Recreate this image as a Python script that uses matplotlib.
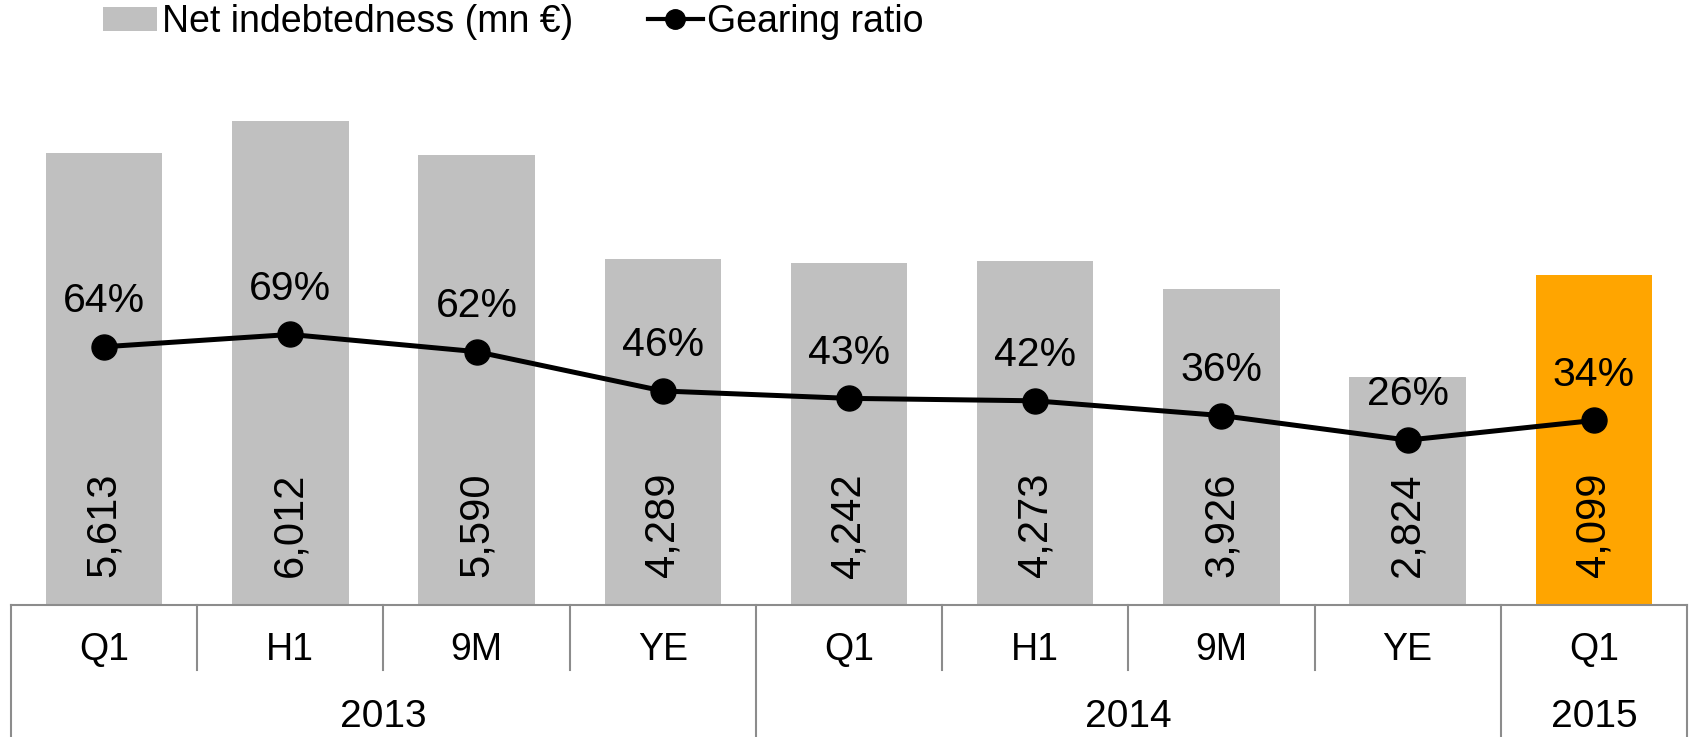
import numpy as np
import matplotlib.pyplot as plt
from matplotlib.patches import Patch
from matplotlib.lines import Line2D

plt.rcParams['font.family'] = ['Liberation Sans', 'DejaVu Sans']

categories = ['Q1', 'H1', '9M', 'YE', 'Q1', 'H1', '9M', 'YE', 'Q1']
years = ['2013', '2014', '2015']
year_counts = [4, 4, 1]
net_debt = [5613, 6012, 5590, 4289, 4242, 4273, 3926, 2824, 4099]
gearing = [64, 69, 62, 46, 43, 42, 36, 26, 34]

grey = '#C0C0C0'
orange = '#FFA500'
line_grey = '#8C8C8C'

W, H = 1689, 737
fig = plt.figure(figsize=(W / 100, H / 100), dpi=100)
# axes in pixel terms: left 11, right 1687, baseline 605, top 60
ax = fig.add_axes([11 / W, (H - 605) / H, (1687 - 11) / W, (605 - 60) / H])

x = np.arange(len(categories))
colors = [grey] * (len(categories) - 1) + [orange]
ax.bar(x, net_debt, width=0.625, color=colors, zorder=1)
ax.set_xlim(-0.5, len(categories) - 0.5)
ax.set_ylim(0, 6763)

for xi, v in zip(x, net_debt):
    ax.text(xi, 990, f'{v:,}', rotation=90, ha='center', va='center', fontsize=30, color='black')

ax2 = ax.twinx()
ax2.plot(x, np.array(gearing) / 100, color='black', lw=3.6, marker='o', markersize=18, zorder=3)
ax2.set_ylim(-0.411, 1.807)
for xi, g in zip(x, gearing):
    ax2.annotate(f'{g}%', (xi, g / 100), xytext=(0, 33), textcoords='offset points',
                 ha='center', va='center', fontsize=29.5)

for a in (ax, ax2):
    a.set_yticks([])
    a.set_xticks([])
    for s in ('top', 'left', 'right'):
        a.spines[s].set_visible(False)
ax2.spines['bottom'].set_visible(False)
ax.spines['bottom'].set_color(line_grey)
ax.spines['bottom'].set_linewidth(1.5)

# category axis with grouped year labels
trans = ax.get_xaxis_transform()
y_cat = -(650 - 605) / 545
y_year = -(717 - 605) / 545
y_minor = -(670 - 605) / 545
y_bottom = -(737 - 605) / 545
for xi, c in zip(x, categories):
    ax.text(xi, y_cat, c, transform=trans, ha='center', va='center', fontsize=27)

bounds = np.cumsum([0] + year_counts) - 0.5
for i, yr in enumerate(years):
    ax.text((bounds[i] + bounds[i + 1]) / 2, y_year, yr, transform=trans,
            ha='center', va='center', fontsize=28)
for b in np.arange(-0.5, len(categories)):
    low = y_bottom if b in bounds else y_minor
    ax.plot([b, b], [0, low], transform=trans, color=line_grey, lw=1.5, clip_on=False)

handles = [Patch(facecolor=grey, edgecolor='none'),
           Line2D([], [], color='black', lw=3, marker='o', markersize=14)]
fig.legend(handles, ['Net indebtedness (mn €)', 'Gearing ratio'], loc='center left',
           bbox_to_anchor=(103 / W, 1 - 22 / H), ncol=2, frameon=False, fontsize=27,
           borderpad=0, borderaxespad=0, handlelength=1.45, handleheight=0.6,
           handletextpad=0.12, columnspacing=2.0)

fig.savefig('out.png', dpi=100)
